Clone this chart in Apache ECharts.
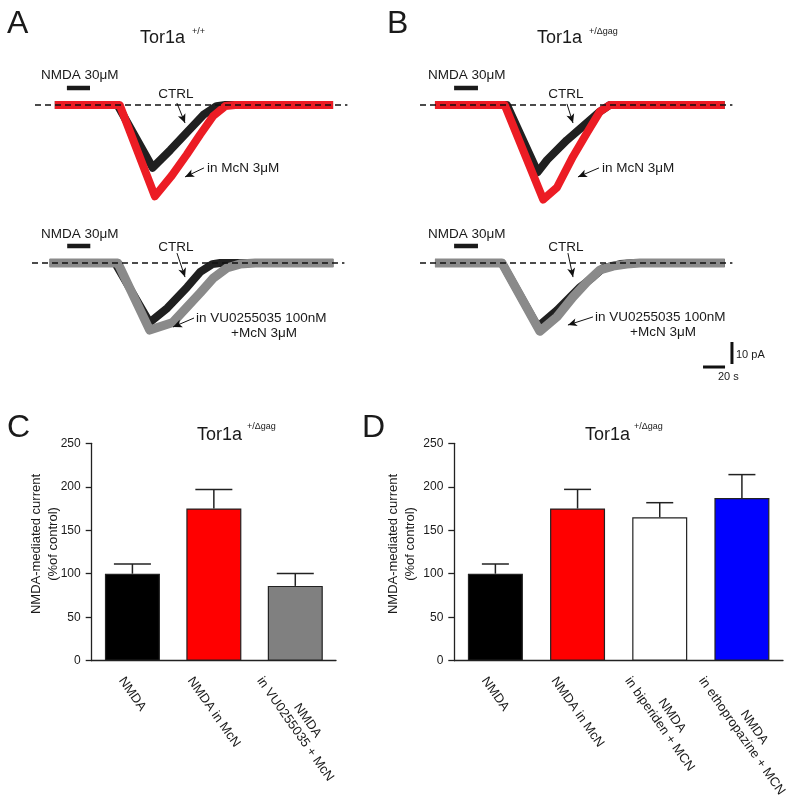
<!DOCTYPE html>
<html>
<head>
<meta charset="utf-8">
<title>Tor1a NMDA currents</title>
<script src="https://cdn.jsdelivr.net/npm/echarts@6.0.0/dist/echarts.min.js"></script>
<style>
  html, body { margin: 0; padding: 0; background: #fff; }
  #chart { width: 800px; height: 807px; }
</style>
</head>
<body>
<div id="chart"></div>
<script>
// traces: [time (s), current (pA)], baseline = 0
const traceAtopCtrl = [[18,0],[75,0],[107,-28.5],[123,-20.5],[138,-12.5],[153,-4.5],[165,-0.5],[173,0],[271,0]];
const traceAtopMcn  = [[18,0],[77,0],[109,-41.5],[124.5,-32],[138,-22.5],[150,-13.5],[162,-5],[173,-0.5],[182,0],[271,0]];
const traceAbotCtrl = [[16,0],[75.5,0],[107,-27],[123,-20.5],[141,-11],[153,-4],[164,-0.5],[171,0],[274,0]];
const traceAbotVu   = [[16,0],[78,0],[107,-30.5],[128,-27],[153,-13.5],[164.5,-7],[177,-2.3],[189,-0.5],[203,0],[274,0]];
const traceBtopCtrl = [[13.6,0],[79,0],[107,-30.5],[115.5,-25],[133.5,-16],[152,-8],[163.5,-3],[172.5,0],[277,0]];
const traceBtopMcn  = [[13.6,0],[77,0],[112,-43],[124.5,-37.5],[139,-23.5],[152,-12.5],[163.5,-3],[172.5,0],[277,0]];
const traceBbotCtrl = [[13.6,0],[74.5,0],[107,-29],[124.5,-21.5],[145.5,-11],[157,-6.5],[166.5,-2.3],[182,-0.5],[195.5,0],[277,0]];
const traceBbotVu   = [[13.6,0],[74.5,0],[109,-31],[124.5,-24.5],[139,-15.5],[152,-8.5],[163.5,-3.2],[175.5,-1.4],[188,-0.5],[200,0],[277,0]];

// NMDA application (s) and scale bars
const nmdaA = [29, 50];
const nmdaAbot = [32, 53];
const nmdaB = [31, 52.7];
const scaleY = [[283.6,-35.9],[283.6,-45.9]];   // 10 pA
const scaleX = [[257.3,-47.3],[277.3,-47.3]];   // 20 s

// bar charts
const catsC = ['NMDA', 'NMDA in McN', 'NMDA\nin VU0255035 + McN'];
const meanC = [100, 175, 86];
const semC = [11.2, 22, 14.3];
const colorsC = ['#000000', '#ff0000', '#808080'];

const catsD = ['NMDA', 'NMDA in McN', 'NMDA\nin biperiden + MCN', 'NMDA\nin ethopropazine + MCN'];
const meanD = [100, 175, 165, 187];
const semD = [11.2, 22, 16.7, 27];
const colorsD = ['#000000', '#ff0000', '#ffffff', '#0000ff'];

const yTicks = [0, 50, 100, 150, 200, 250];

const FONT = '"Liberation Sans", Arial, sans-serif';
const INK = '#1a1a1a';
const LBL_FS = 13, LBL_LH = 15, LBL_ROT = 55, LBL_TOP = 15, LBL_MARGIN = 2;

const chart = echarts.init(document.getElementById('chart'));

// trace panel grids: 1.1 px per s, 2.2 px per pA
function traceGrid(left, top) {
  return { left: left, top: top, width: 313.5, height: 132, outerBoundsMode: 'none' };
}
const grids = [
  traceGrid(35, 83), traceGrid(32, 241), traceGrid(420, 83), traceGrid(420, 241),
  { left: 91.7, top: 443.3, width: 244.3, height: 217.4, outerBoundsMode: 'none' },
  { left: 454.3, top: 443.3, width: 328.7, height: 217.4, outerBoundsMode: 'none' }
];

const xAxes = [], yAxes = [];
for (let i = 0; i < 4; i++) {
  xAxes.push({ type: 'value', gridIndex: i, min: 0, max: 285, show: false });
  yAxes.push({ type: 'value', gridIndex: i, min: -50, max: 10, show: false });
}

// rotated category labels: each rotated label is centred on its tick and its
// top sits a fixed distance under the axis; padding moves the text there
const measureCtx = document.createElement('canvas').getContext('2d');
measureCtx.font = LBL_FS + 'px ' + FONT;
const SN = Math.sin(LBL_ROT * Math.PI / 180), CS = Math.cos(LBL_ROT * Math.PI / 180);
function labelPadding(cat) {
  let xmin = Infinity, xmax = -Infinity, ymin = Infinity;
  cat.split('\n').forEach((ln, k) => {
    const w = measureCtx.measureText(ln).width;
    const y0 = k * LBL_LH + 2.7, y1 = y0 + 9.3;
    [-w / 2, w / 2].forEach(x => [y0, y1].forEach(y => {
      const sx = CS * x - SN * y, sy = SN * x + CS * y;
      xmin = Math.min(xmin, sx); xmax = Math.max(xmax, sx); ymin = Math.min(ymin, sy);
    }));
  });
  const dx = -(xmin + xmax) / 2, dy = (LBL_TOP - LBL_MARGIN) - ymin;
  const along = CS * dx + SN * dy, across = -SN * dx + CS * dy;
  return [Math.max(0, across), 0, 0, Math.max(0, 2 * along)];
}

function barXAxis(idx, cats) {
  return {
    type: 'category', gridIndex: idx,
    data: cats.map(c => ({ value: c,
      textStyle: { align: 'center', verticalAlign: 'top', padding: labelPadding(c) } })),
    axisLine: { lineStyle: { color: '#222', width: 1.3 } },
    axisTick: { show: false },
    axisLabel: {
      interval: 0, rotate: -LBL_ROT, margin: LBL_MARGIN, align: 'center', verticalAlign: 'top',
      fontFamily: FONT, fontSize: LBL_FS, lineHeight: LBL_LH, color: INK
    }
  };
}
function barYAxis(idx, gap) {
  return {
    type: 'value', gridIndex: idx, min: 0, max: 250, interval: 50,
    axisLine: { show: true, lineStyle: { color: '#222', width: 1.3 } },
    axisTick: { show: true, length: 6, lineStyle: { color: '#222', width: 1.3 } },
    axisLabel: { fontFamily: FONT, fontSize: 12, color: INK, margin: 11, customValues: yTicks },
    splitLine: { show: false },
    name: 'NMDA-mediated current\n(%of control)',
    nameLocation: 'middle', nameRotate: 90, nameGap: gap, nameMoveOverlap: false,
    nameTextStyle: { fontFamily: FONT, fontSize: 13, color: INK, lineHeight: 17, padding: [0, 0, 0, 16] }
  };
}
xAxes.push(barXAxis(4, catsC), barXAxis(5, catsD));
yAxes.push(barYAxis(4, 30), barYAxis(5, 35));

function trace(idx, data, color, width, z) {
  return { type: 'line', xAxisIndex: idx, yAxisIndex: idx, data: data, showSymbol: false,
    symbol: 'none', lineStyle: { color: color, width: width, join: 'round' }, z: z, silent: true };
}
function baseline(idx) {
  return { type: 'line', xAxisIndex: idx, yAxisIndex: idx, data: [[0, 0], [284, 0]], symbol: 'none',
    lineStyle: { color: '#111', width: 1.3, type: [6, 4] }, z: 10, silent: true };
}
function arrows(idx, app, list) {
  return { type: 'line', xAxisIndex: idx, yAxisIndex: idx, data: [[app[0], 7.7], [app[1], 7.7]],
    symbol: 'none', lineStyle: { color: '#1a1a1a', width: 4.5 }, z: 11, silent: true,
    markLine: {
      silent: true, symbol: ['none', 'arrow'], symbolSize: [6, 9], animation: false,
      label: { show: false },
      lineStyle: { color: '#111', width: 1, type: 'solid' },
      data: list.map(a => [{ coord: a[0] }, { coord: a[1] }])
    }
  };
}
function errRender(capW) {
  return function (params, api) {
    const x = api.value(0), m = api.value(1), e = api.value(2);
    const p0 = api.coord([x, m]);
    const p1 = api.coord([x, m + e]);
    const st = { stroke: '#222', lineWidth: 1.5 };
    return { type: 'group', children: [
      { type: 'line', shape: { x1: p0[0], y1: p0[1], x2: p1[0], y2: p1[1] }, style: st },
      { type: 'line', shape: { x1: p1[0] - capW / 2, y1: p1[1], x2: p1[0] + capW / 2, y2: p1[1] }, style: st }
    ] };
  };
}
function bars(idx, means, colors) {
  return { type: 'bar', xAxisIndex: idx, yAxisIndex: idx, barWidth: 55, silent: true,
    data: means.map((v, i) => ({ value: v, itemStyle: { color: colors[i], borderColor: '#222', borderWidth: 1.2 } })) };
}
function errs(idx, means, sems, capW) {
  return { type: 'custom', xAxisIndex: idx, yAxisIndex: idx, silent: true, z: 3,
    renderItem: errRender(capW), data: means.map((v, i) => [i, v, sems[i]]) };
}

const series = [
  trace(0, traceAtopCtrl, '#202020', 8, 2), trace(0, traceAtopMcn, '#ec1c24', 8, 3), baseline(0),
  arrows(0, nmdaA, [[[129, 0.9], [136.4, -8.2]], [[153.6, -28.6], [136.4, -32.7]]]),
  trace(1, traceAbotCtrl, '#202020', 8, 2), trace(1, traceAbotVu, '#8a8a8a', 9, 3), baseline(1),
  arrows(1, nmdaAbot, [[[131.8, 4.5], [139.1, -6.4]], [[147.3, -25], [128.2, -29.1]]]),
  trace(2, traceBtopCtrl, '#202020', 8, 2), trace(2, traceBtopMcn, '#ec1c24', 8, 3), baseline(2),
  arrows(2, nmdaB, [[[133.6, 0.5], [139.1, -8.2]], [[162.7, -28.6], [143.6, -32.7]]]),
  trace(3, traceBbotCtrl, '#202020', 8, 2), trace(3, traceBbotVu, '#8a8a8a', 9, 3), baseline(3),
  arrows(3, nmdaB, [[[134.5, 4.5], [139.1, -6.4]], [[157.3, -24.5], [134.5, -28.2]]]),
  trace(3, scaleY, '#111', 3, 12), trace(3, scaleX, '#111', 3, 12),
  bars(4, meanC, colorsC), errs(4, meanC, semC, 37),
  bars(5, meanD, colorsD), errs(5, meanD, semD, 27)
];

function txt(x, y, text, size, align) {
  return { type: 'text', x: x, y: y, silent: true,
    style: { text: text, font: size + 'px ' + FONT, fill: INK, align: align || 'left', verticalAlign: 'middle' } };
}
const texts = [
  txt(7, 24, 'A', 32), txt(387, 24, 'B', 32), txt(7, 428, 'C', 32), txt(362, 428, 'D', 32),
  txt(140, 38, 'Tor1a', 18), txt(192, 32, '+/+', 9),
  txt(537, 38, 'Tor1a', 18), txt(589, 32, '+/\u0394gag', 9),
  txt(197, 435, 'Tor1a', 18), txt(247, 427, '+/\u0394gag', 9),
  txt(585, 435, 'Tor1a', 18), txt(634, 427, '+/\u0394gag', 9),
  txt(41, 75, 'NMDA 30\u03bcM', 13.5), txt(41, 234, 'NMDA 30\u03bcM', 13.5),
  txt(428, 75, 'NMDA 30\u03bcM', 13.5), txt(428, 234, 'NMDA 30\u03bcM', 13.5),
  txt(176, 94, 'CTRL', 13.5, 'center'), txt(176, 247, 'CTRL', 13.5, 'center'),
  txt(566, 94, 'CTRL', 13.5, 'center'), txt(566, 247, 'CTRL', 13.5, 'center'),
  txt(207, 168, 'in McN 3\u03bcM', 13.5), txt(602, 168, 'in McN 3\u03bcM', 13.5),
  txt(196, 318, 'in VU0255035 100nM', 13.5), txt(231, 333, '+McN 3\u03bcM', 13.5),
  txt(595, 317, 'in VU0255035 100nM', 13.5), txt(630, 332, '+McN 3\u03bcM', 13.5),
  txt(736, 355, '10 pA', 11), txt(718, 377, '20 s', 11)
];

chart.setOption({
  animation: false,
  backgroundColor: '#ffffff',
  textStyle: { fontFamily: FONT },
  grid: grids,
  xAxis: xAxes,
  yAxis: yAxes,
  series: series,
  graphic: texts
});
</script>
</body>
</html>
